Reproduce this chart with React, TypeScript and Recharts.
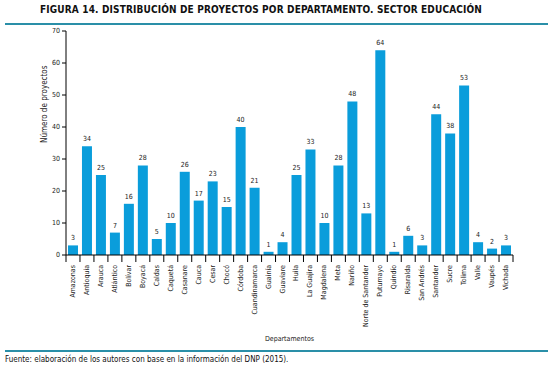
import React from 'react';
import { BarChart, Bar, XAxis, YAxis, LabelList } from 'recharts';

// Departamentos y número de proyectos (sector educación)
const departamentos = [
  'Amazonas', 'Antioquia', 'Arauca', 'Atlántico', 'Bolívar', 'Boyacá', 'Caldas', 'Caquetá',
  'Casanare', 'Cauca', 'Cesar', 'Chocó', 'Córdoba', 'Cuandinamarca', 'Guainía', 'Guaviare',
  'Huila', 'La Guajira', 'Magdalena', 'Meta', 'Nariño', 'Norte de Santander', 'Putumayo', 'Quindío',
  'Risaralda', 'San Andrés', 'Santander', 'Sucre', 'Tolima', 'Valle', 'Vaupés', 'Vichada'
];
const proyectos = [3, 34, 25, 7, 16, 28, 5, 10, 26, 17, 23, 15, 40, 21, 1, 4, 25, 33, 10, 28, 48, 13, 64, 1, 6, 3, 44, 38, 53, 4, 2, 3];
const yTicks = [0, 10, 20, 30, 40, 50, 60, 70];

const FONT = '"Liberation Sans Narrow", "DejaVu Sans Condensed", "Liberation Sans", Arial, sans-serif';
const BAR = '#0a9ddb';
const RULE = '#2a8fa8';

const data = departamentos.map((name, i) => ({ name, value: proyectos[i] }));

// Tick con separadores entre categorías
const CategoryTick = (props: any) => {
  const { x, y, payload, index } = props;
  const step = 447 / departamentos.length;
  return (
    <g>
      <line x1={x - step / 2} y1={y - 8} x2={x - step / 2} y2={y - 1} stroke="#000" strokeWidth={1} />
      {index === departamentos.length - 1 && (
        <line x1={x + step / 2} y1={y - 8} x2={x + step / 2} y2={y - 1} stroke="#000" strokeWidth={1} />
      )}
      <text
        x={x}
        y={y + 2}
        transform={`rotate(-90, ${x}, ${y + 2})`}
        textAnchor="end"
        dominantBaseline="central"
        fontSize={7}
        fontFamily={FONT}
        fill="#222"
      >
        {payload.value}
      </text>
    </g>
  );
};

export default function App() {
  return (
    <div style={{ position: 'fixed', left: 0, top: 0, width: 553, height: 370, background: '#fff', fontFamily: FONT }}>
      <div style={{ position: 'absolute', left: 0, width: 522, top: 4, textAlign: 'center', fontSize: 10, fontWeight: 'bold', color: '#111', letterSpacing: 0.15 }}>
        FIGURA 14. DISTRIBUCIÓN DE PROYECTOS POR DEPARTAMENTO. SECTOR EDUCACIÓN
      </div>
      <div style={{ position: 'absolute', left: 5, top: 23, width: 543, height: 1.5, background: RULE }} />
      <div style={{ position: 'absolute', left: 0, top: 0 }}>
        <BarChart width={553} height={350} data={data} margin={{ top: 31, right: 40, bottom: 5, left: 6 }}>
          <XAxis
            dataKey="name"
            interval={0}
            tickLine={false}
            axisLine={{ stroke: '#000' }}
            height={90}
            tick={<CategoryTick />}
            label={{ value: 'Departamentos', position: 'insideBottom', offset: 4, fontSize: 7, fill: '#222', fontFamily: FONT }}
          />
          <YAxis
            domain={[0, 70]}
            ticks={yTicks}
            width={60}
            tickSize={4}
            axisLine={{ stroke: '#000' }}
            tickLine={{ stroke: '#000' }}
            tick={{ fontSize: 7, fill: '#222', fontFamily: FONT }}
            label={{ value: 'Número de proyectos', angle: -90, position: 'insideLeft', offset: 38, fontSize: 8, fill: '#222', fontFamily: FONT }}
          />
          <Bar dataKey="value" fill={BAR} barSize={10} isAnimationActive={false}>
            <LabelList dataKey="value" position="top" offset={5} fontSize={7} fill="#222" fontFamily={FONT} />
          </Bar>
        </BarChart>
      </div>
      <div style={{ position: 'absolute', left: 5, top: 350, width: 543, height: 1.5, background: RULE }} />
      <div style={{ position: 'absolute', left: 5, top: 355, fontSize: 8, color: '#111' }}>
        Fuente: elaboración de los autores con base en la información del DNP (2015).
      </div>
    </div>
  );
}
